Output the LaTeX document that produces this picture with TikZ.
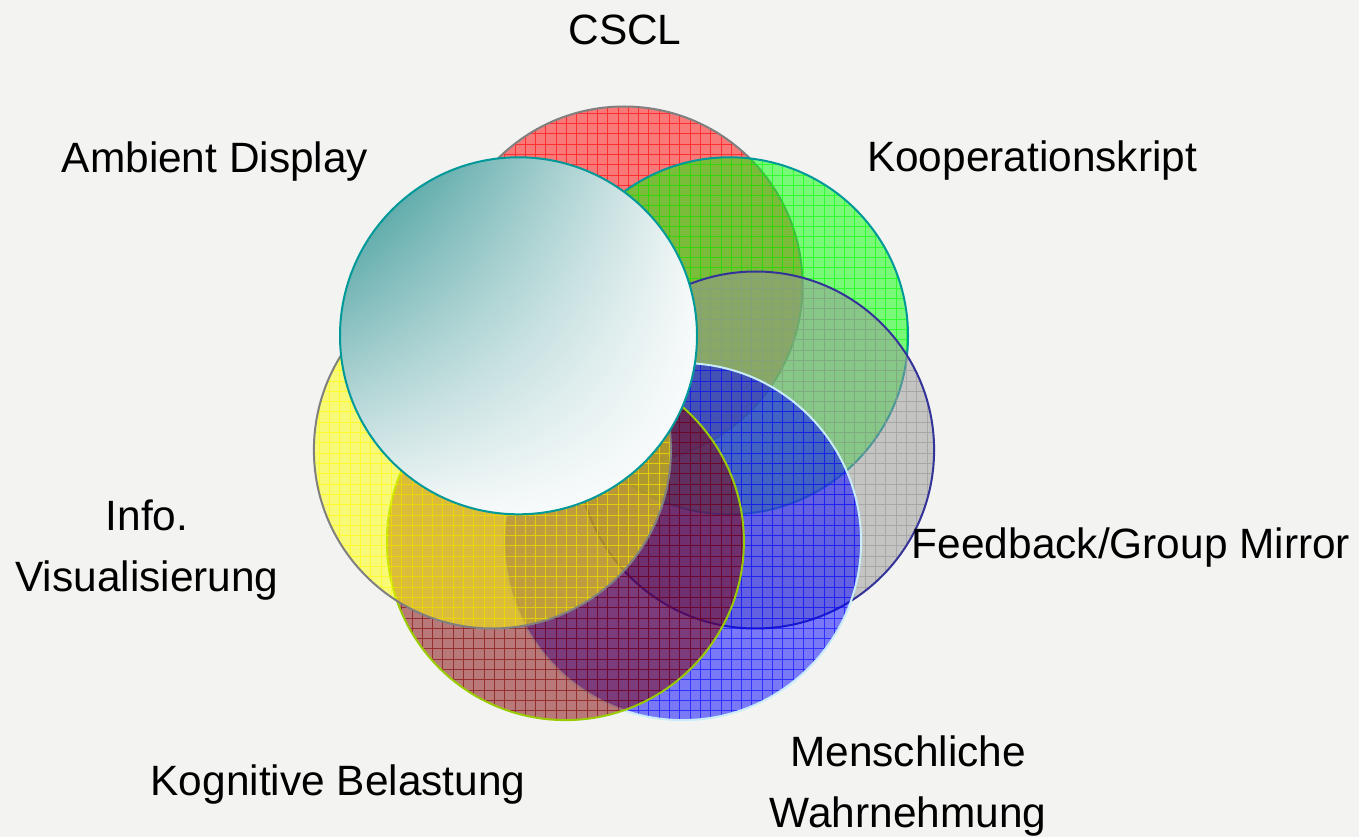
\documentclass[tikz,border=0pt]{standalone}
\usepackage{fontspec}
\setmainfont{Liberation Sans}
\usetikzlibrary{shadings}
\definecolor{bg}{RGB}{243,243,241}
\definecolor{cred}{RGB}{255,0,0}
\definecolor{cgreen}{RGB}{0,255,0}
\definecolor{cgray}{RGB}{150,150,150}
\definecolor{cblue}{RGB}{0,0,255}
\definecolor{cdred}{RGB}{128,0,0}
\definecolor{cyel}{RGB}{255,255,0}
\definecolor{bgray}{RGB}{128,128,128}
\definecolor{bteal}{RGB}{0,153,153}
\definecolor{bnavy}{RGB}{51,51,153}
\definecolor{blight}{RGB}{200,236,250}
\definecolor{blime}{RGB}{153,204,0}
\definecolor{tealA}{RGB}{45,145,145}
\definecolor{tealB}{RGB}{242,246,246}
\newcommand\vennpat[4]{%
  \begin{scope}
    \clip (#1) circle[radius=133.875pt];
    \fill[#2, fill opacity=0.5] (#1) circle[radius=133.875pt];
    \draw[#3, line width=0.75pt, draw opacity=0.6, step=7.725pt] (0,837) grid (1359,0);
  \end{scope}
  \draw[#4, line width=1.5pt] (#1) circle[radius=133.875pt];
}
\tikzset{lbl/.style={font=\fontsize{31.8}{45.75}\selectfont, align=center, inner sep=0pt, text=black}}
\begin{document}
\begin{tikzpicture}[x=0.75pt,y=-0.75pt]
\fill[bg] (0,0) rectangle (1359,837);
\useasboundingbox (0,0) rectangle (1359,837);
\coordinate (cR) at (624,285);
\coordinate (cG) at (729.5,335.8);
\coordinate (cY2) at (755.6,450);
\coordinate (cB) at (682.6,541.6);
\coordinate (cD) at (565.4,541.6);
\coordinate (cY) at (492.4,450);
\coordinate (cW) at (518.5,335.8);
\vennpat{cR}{cred}{cred}{bgray}
\vennpat{cG}{cgreen}{cgreen}{bteal}
\vennpat{cY2}{cgray}{cgray}{bnavy}
\vennpat{cB}{cblue}{cblue}{blight}
\vennpat{cD}{cdred}{cdred}{blime}
\vennpat{cY}{cyel}{cyel}{bgray}
\shade[upper left=tealA, upper right=tealB, lower left=tealB, lower right=white] (cW) circle[radius=133.875pt];
\draw[bteal, line width=1.5pt] (cW) circle[radius=133.875pt];
\node[lbl] (tCSCL) at (625,30) {CSCL};
\node[lbl] (tAmb) at (215,162) {Ambient Display};
\node[lbl] (tKoop) at (1032,161) {Kooperationskript};
\node[lbl] (tFeed) at (1131,548) {Feedback/Group Mirror};
\node[lbl] (tInfo) at (147,550) {Info.\\Visualisierung};
\node[lbl] (tKog) at (338,785) {Kognitive Belastung};
\node[lbl] (tMen) at (908,786) {Menschliche\\Wahrnehmung};
\end{tikzpicture}
\end{document}
